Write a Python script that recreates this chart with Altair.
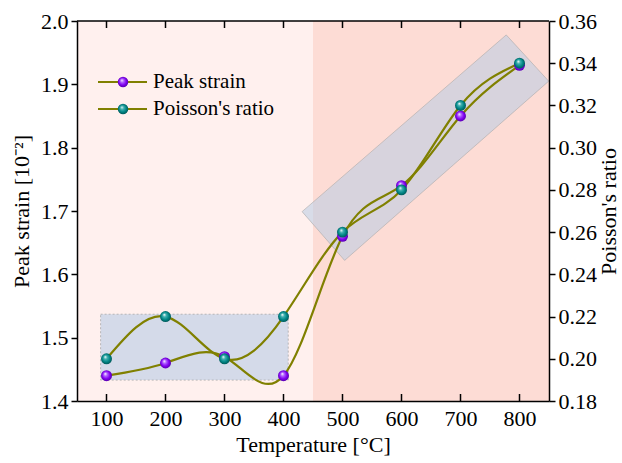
import altair as alt
import pandas as pd

# ---- data ----
temps = [100, 200, 300, 400, 500, 600, 700, 800]
peak_strain = [1.44, 1.46, 1.47, 1.44, 1.66, 1.74, 1.85, 1.93]
poisson = [0.20, 0.22, 0.20, 0.22, 0.26, 0.28, 0.32, 0.34]

x_ticks = [100, 200, 300, 400, 500, 600, 700, 800]
left_ticks = [1.4, 1.5, 1.6, 1.7, 1.8, 1.9, 2.0]
right_ticks = [0.18, 0.20, 0.22, 0.24, 0.26, 0.28, 0.30, 0.32, 0.34, 0.36]

zone_start = [50, 450]
zone_end = [450, 850]
zone_color = ["#FFF0EE", "#FDDCD5"]

box_x = [90, 408]
box_y = [1.433, 1.537]

band_x = [431.5, 503.6, 777.5, 849.5]
band_top = [1.699, 1.757, 1.978, 1.905]
band_bottom = [1.699, 1.622, 1.846, 1.905]
outline_x = [431.5, 777.5, 849.5, 503.6, 431.5]
outline_y = [1.699, 1.978, 1.905, 1.622, 1.699]

legend_labels = ["Peak strain", "Poisson's ratio"]

W, H = 472, 380
FONT = "Liberation Serif"
OLIVE = "#808000"
FS = 22

df = pd.DataFrame({"temp": temps, "peak": peak_strain, "poisson": poisson})
zones = pd.DataFrame({"x0": zone_start, "x1": zone_end, "c": zone_color})
box = pd.DataFrame({"x0": [box_x[0]], "x1": [box_x[1]], "y0": [box_y[0]], "y1": [box_y[1]]})
band = pd.DataFrame({"x": band_x, "top": band_top, "bottom": band_bottom})
outline = pd.DataFrame({"x": outline_x, "y": outline_y, "o": list(range(len(outline_x)))})
ticks_df = pd.DataFrame({"t": x_ticks})

common = dict(labelFont=FONT, labelFontSize=FS, labelColor="black",
              titleFont=FONT, titleFontSize=FS, titleFontWeight="normal", titleColor="black",
              domainColor="black", domainWidth=1.5, tickColor="black", tickWidth=1.5,
              grid=False, zindex=1)

xscale = alt.Scale(domain=[50, 850], nice=False, zero=False)
xaxis = alt.Axis(values=x_ticks, ticks=False, labelPadding=7, title="Temperature [°C]",
                 titlePadding=5, format="d", **common)
lscale = alt.Scale(domain=[1.4, 2.0], nice=False, zero=False)
laxis = alt.Axis(values=left_ticks, format=".1f", tickSize=6, labelPadding=3,
                 title="Peak strain [10⁻²]", titlePadding=7, **common)
rscale = alt.Scale(domain=[0.18, 0.36], nice=False, zero=False)
raxis = alt.Axis(values=right_ticks, format=".2f", tickSize=6, labelPadding=3,
                 title="Poisson's ratio", titlePadding=2, orient="right",
                 titleAngle=270, titleBaseline="top", **common)


def X(field):
    return alt.X(field, type="quantitative", scale=xscale, axis=xaxis)


def YL(field):
    return alt.Y(field, type="quantitative", scale=lscale, axis=laxis)


def sphere(light, base, dark):
    return alt.RadialGradient(
        gradient="radial",
        stops=[alt.GradientStop(color="white", offset=0),
               alt.GradientStop(color=light, offset=0.3),
               alt.GradientStop(color=base, offset=0.65),
               alt.GradientStop(color=dark, offset=1)],
        x1=0.38, y1=0.32, r1=0.0, x2=0.5, y2=0.5, r2=0.55)


purple = sphere("#B060FF", "#8000F0", "#5000A0")
teal = sphere("#40B0B0", "#008585", "#004F4F")

bg = alt.Chart(zones).mark_rect().encode(
    x=X("x0"), x2="x1", y=alt.value(0), y2=alt.value(H),
    color=alt.Color("c:N", scale=None))

box_l = alt.Chart(box).mark_rect(fill="#B0C8E6", fillOpacity=0.55, stroke="#AAAAAA",
                                 strokeWidth=0.8, strokeDash=[2, 2]).encode(
    x=X("x0"), x2="x1", y=YL("y0"), y2="y1")

band_l = alt.Chart(band).mark_area(color="#B8CCE4", opacity=0.55, interpolate="linear").encode(
    x=X("x"), y=YL("top"), y2="bottom")

outline_l = alt.Chart(outline).mark_line(color="#AAAAAA", strokeWidth=0.6).encode(
    x=X("x"), y=YL("y"), order="o:O")

peak_line = alt.Chart(df).mark_line(color=OLIVE, strokeWidth=2.2, interpolate="natural").encode(
    x=X("temp"), y=YL("peak"))

pois_line = alt.Chart(df).transform_calculate(
    pl="1.4 + (datum.poisson - 0.18) / 0.18 * 0.6"
).mark_line(color=OLIVE, strokeWidth=2.2, interpolate="natural").encode(
    x=X("temp"), y=YL("pl"))

peak_pts = alt.Chart(df).mark_point(shape="circle", filled=True, size=120, opacity=1,
                                    color=purple, strokeWidth=0).encode(
    x=X("temp"), y=YL("peak"))

left = alt.layer(bg, box_l, band_l, outline_l, peak_line, pois_line, peak_pts)

pois_pts = alt.Chart(df).mark_point(shape="circle", filled=True, size=120, opacity=1,
                                    color=teal, strokeWidth=0).encode(
    x=X("temp"), y=alt.Y("poisson", type="quantitative", scale=rscale, axis=raxis))

one = alt.Data(values=[{}])
top_border = alt.Chart(one).mark_rule(color="black", strokeWidth=1.5).encode(
    x=alt.value(0), x2=alt.value(W), y=alt.value(0))
bottom_ticks = alt.Chart(ticks_df).mark_rule(color="black", strokeWidth=1.5).encode(
    x=X("t"), y=alt.value(H - 7), y2=alt.value(H))
top_ticks = alt.Chart(ticks_df).mark_rule(color="black", strokeWidth=1.5).encode(
    x=X("t"), y=alt.value(0), y2=alt.value(7))

leg = []
for i, (lab, grad) in enumerate(zip(legend_labels, [purple, teal])):
    yy = 61 + 27 * i
    leg.append(alt.Chart(one).mark_rule(color=OLIVE, strokeWidth=2.2).encode(
        x=alt.value(21), x2=alt.value(70), y=alt.value(yy)))
    leg.append(alt.Chart(one).mark_point(shape="circle", filled=True, size=110, opacity=1,
                                         color=grad, strokeWidth=0).encode(
        x=alt.value(46), y=alt.value(yy)))
    leg.append(alt.Chart(one).mark_text(align="left", baseline="middle", font=FONT,
                                        fontSize=21, color="black").encode(
        x=alt.value(76), y=alt.value(yy), text=alt.value(lab)))

right = alt.layer(pois_pts, top_border, bottom_ticks, top_ticks, *leg)

chart = alt.layer(left, right).resolve_scale(y="independent").properties(
    width=W, height=H,
    autosize=alt.AutoSizeParams(type="none"),
    padding={"left": 77, "top": 21, "right": 73, "bottom": 62},
    background="white",
).configure_view(stroke=None).configure_axis(**common)

chart.save("out.html", embed_options={"renderer": "svg", "actions": False})
